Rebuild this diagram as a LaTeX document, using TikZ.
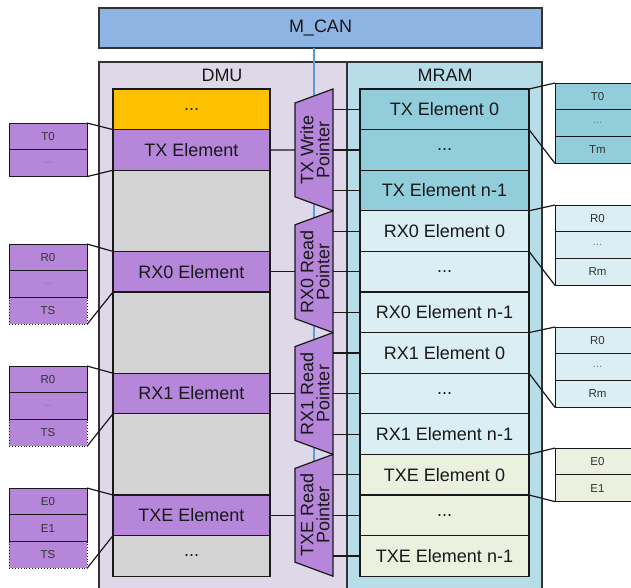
\documentclass[tikz,border=0pt]{standalone}
\usepackage{fontspec}
\setmainfont{Liberation Sans}
\usetikzlibrary{calc}
\usetikzlibrary{positioning}
\definecolor{mcanblue}{RGB}{141,180,227}
\definecolor{dmubg}{RGB}{223,216,232}
\definecolor{mrambg}{RGB}{183,221,232}
\definecolor{elempurple}{RGB}{182,134,218}
\definecolor{elemorange}{RGB}{255,192,0}
\definecolor{elemgray}{RGB}{212,212,212}
\definecolor{txcol}{RGB}{146,205,220}
\definecolor{rxcol}{RGB}{218,238,243}
\definecolor{txecol}{RGB}{235,241,222}
\definecolor{canblue}{RGB}{91,155,213}

\begin{document}
\begin{tikzpicture}[x=1pt,y=-1pt,
outer/.style={draw=black!80,line width=1.6pt,anchor=north west,inner sep=0pt,outer sep=0pt},
cell/.style={draw=black!90,line width=1.2pt,anchor=north west,inner sep=0pt,outer sep=0pt,text=black!90,font=\fontsize{18}{20}\selectfont},
dmucell/.style={cell,minimum width=157pt,minimum height=40.6pt},
mramcell/.style={cell,minimum width=169pt,minimum height=40.6pt},
field/.style={draw=black!90,line width=0.9pt,anchor=north west,inner sep=0pt,outer sep=0pt,minimum width=78pt,minimum height=26.8pt,text=black!80,font=\fontsize{11.5}{13}\selectfont},
rfield/.style={field,minimum width=85pt},
ptr/.style={draw=black!90,line width=1.2pt,fill=elempurple,line join=miter},
ptrlabel/.style={rotate=90,align=center,inner sep=0pt,text=black!90,font=\fontsize{18}{16}\selectfont},
wire/.style={draw=black!90,line width=1.2pt},
canwire/.style={draw=canblue,line width=1.2pt}]

\useasboundingbox (0,0) rectangle (631,587);
\clip (0,0) rectangle (631,587);

\node[outer,fill=dmubg,minimum width=248pt,minimum height=540pt] (dmu) at (99,62) {};
\node[outer,fill=mrambg,minimum width=195pt,minimum height=540pt] (mram) at (347,62) {};
\node[outer,fill=mcanblue,minimum width=443pt,minimum height=40pt,text=black!90,font=\fontsize{18}{20}\selectfont] (mcan) at (99,8) {M\_CAN};
\node[text=black!90,font=\fontsize{18}{20}\selectfont] (dmulabel) at (222,75) {DMU};
\node[text=black!90,font=\fontsize{18}{20}\selectfont] (mramlabel) at (445,75) {MRAM};

\coordinate (busend) at (314,568);
\draw[canwire] (mcan.south -| busend) -- (busend);

\node[dmucell,fill=elemorange] (dtop) at (113,89) {...};
\node[dmucell,fill=elempurple] (dtx) at (113,129.6) {TX Element};
\node[dmucell,fill=elemgray,minimum height=81.2pt] (dgap0) at (113,170.2) {};
\node[dmucell,fill=elempurple] (drx0) at (113,251.4) {RX0 Element};
\node[dmucell,fill=elemgray,minimum height=81.2pt] (dgap1) at (113,292) {};
\node[dmucell,fill=elempurple] (drx1) at (113,373.2) {RX1 Element};
\node[dmucell,fill=elemgray,minimum height=81.2pt] (dgap2) at (113,413.8) {};
\node[dmucell,fill=elempurple] (dtxe) at (113,495) {TXE Element};
\node[dmucell,fill=elemgray] (dend) at (113,535.6) {...};

\node[mramcell,fill=txcol] (m0) at (360,89) {TX Element 0};
\node[mramcell,fill=txcol] (m1) at (360,129.6) {...};
\node[mramcell,fill=txcol] (m2) at (360,170.2) {TX Element n-1};
\node[mramcell,fill=rxcol] (m3) at (360,210.8) {RX0 Element 0};
\node[mramcell,fill=rxcol] (m4) at (360,251.4) {...};
\node[mramcell,fill=rxcol] (m5) at (360,292) {RX0 Element n-1};
\node[mramcell,fill=rxcol] (m6) at (360,332.6) {RX1 Element 0};
\node[mramcell,fill=rxcol] (m7) at (360,373.2) {...};
\node[mramcell,fill=rxcol] (m8) at (360,413.8) {RX1 Element n-1};
\node[mramcell,fill=txecol] (m9) at (360,454.4) {TXE Element 0};
\node[mramcell,fill=txecol] (m10) at (360,495) {...};
\node[mramcell,fill=txecol] (m11) at (360,535.6) {TXE Element n-1};

\coordinate (ptxL) at (295,149.9);
\coordinate (ptxR) at (333,149.9);
\coordinate (prx0L) at (295,271.7);
\coordinate (prx0R) at (333,271.7);
\coordinate (prx1L) at (295,393.5);
\coordinate (prx1R) at (333,393.5);
\coordinate (ptxeL) at (295,515.3);
\coordinate (ptxeR) at (333,515.3);

\draw[wire] (dtx.east) -- (ptxL);
\draw[wire] (drx0.east) -- (prx0L);
\draw[wire] (drx1.east) -- (prx1L);
\draw[wire] (dtxe.east) -- (ptxeL);

\draw[wire] (m0.west -| ptxR) -- (m0.west);
\draw[wire] (m1.west -| ptxR) -- (m1.west);
\draw[wire] (m2.west -| ptxR) -- (m2.west);
\draw[wire] (m3.west -| prx0R) -- (m3.west);
\draw[wire] (m4.west -| prx0R) -- (m4.west);
\draw[wire] (m5.west -| prx0R) -- (m5.west);
\draw[wire] (m6.west -| prx1R) -- (m6.west);
\draw[wire] (m7.west -| prx1R) -- (m7.west);
\draw[wire] (m8.west -| prx1R) -- (m8.west);
\draw[wire] (m9.west -| ptxeR) -- (m9.west);
\draw[wire] (m10.west -| ptxeR) -- (m10.west);
\draw[wire] (m11.west -| ptxeR) -- (m11.west);

\draw[ptr] (295,103) -- (333,89) -- (333,210.8) -- (295,196.8) -- cycle;
\draw[ptr] (295,224.8) -- (333,210.8) -- (333,332.6) -- (295,318.6) -- cycle;
\draw[ptr] (295,346.6) -- (333,332.6) -- (333,454.4) -- (295,440.4) -- cycle;
\draw[ptr] (295,468.4) -- (333,454.4) -- (333,576.2) -- (295,562.2) -- cycle;
\node[ptrlabel] (ptx) at (315,149.9) {TX Write\\Pointer};
\node[ptrlabel] (prx0) at (315,271.7) {RX0 Read\\Pointer};
\node[ptrlabel] (prx1) at (315,393.5) {RX1 Read\\Pointer};
\node[ptrlabel] (ptxe) at (315,515.3) {TXE Read\\Pointer};

\node[field,fill=elempurple] (ft0) at (9,123) {T0};
\node[field,fill=elempurple,text=black!50] (ft1) at (9,149.8) {...};
\draw[wire] (ft0.north east) -- (dtx.north west);
\draw[wire] (ft1.south east) -- (dtx.south west);

\node[field,fill=elempurple] (fr00) at (9,244) {R0};
\node[field,fill=elempurple,text=black!50] (fr01) at (9,270.8) {...};
\node[field,fill=elempurple,dotted] (fr02) at (9,297.6) {TS};
\draw[wire] (fr00.north east) -- (drx0.north west);
\draw[wire] (fr02.south east) -- (drx0.south west);

\node[field,fill=elempurple] (fr10) at (9,366) {R0};
\node[field,fill=elempurple,text=black!50] (fr11) at (9,392.8) {...};
\node[field,fill=elempurple,dotted] (fr12) at (9,419.6) {TS};
\draw[wire] (fr10.north east) -- (drx1.north west);
\draw[wire] (fr12.south east) -- (drx1.south west);

\node[field,fill=elempurple] (fe0) at (9,488) {E0};
\node[field,fill=elempurple] (fe1) at (9,514.8) {E1};
\node[field,fill=elempurple,dotted] (fe2) at (9,541.6) {TS};
\draw[wire] (fe0.north east) -- (dtxe.north west);
\draw[wire] (fe2.south east) -- (dtxe.south west);

\node[rfield,fill=txcol] (gt0) at (555,83) {T0};
\node[rfield,fill=txcol,text=black!50] (gt1) at (555,109.8) {...};
\node[rfield,fill=txcol] (gt2) at (555,136.6) {Tm};
\draw[wire] (m0.north east) -- (gt0.north west);
\draw[wire] (m0.south east) -- (gt2.south west);

\node[rfield,fill=rxcol] (gr00) at (555,205) {R0};
\node[rfield,fill=rxcol,text=black!50] (gr01) at (555,231.8) {...};
\node[rfield,fill=rxcol] (gr02) at (555,258.6) {Rm};
\draw[wire] (m3.north east) -- (gr00.north west);
\draw[wire] (m3.south east) -- (gr02.south west);

\node[rfield,fill=rxcol] (gr10) at (555,327) {R0};
\node[rfield,fill=rxcol,text=black!50] (gr11) at (555,353.8) {...};
\node[rfield,fill=rxcol] (gr12) at (555,380.6) {Rm};
\draw[wire] (m6.north east) -- (gr10.north west);
\draw[wire] (m6.south east) -- (gr12.south west);

\node[rfield,fill=txecol] (ge0) at (555,448) {E0};
\node[rfield,fill=txecol] (ge1) at (555,474.8) {E1};
\draw[wire] (m9.north east) -- (ge0.north west);
\draw[wire] (m9.south east) -- (ge1.south west);
\end{tikzpicture}
\end{document}
